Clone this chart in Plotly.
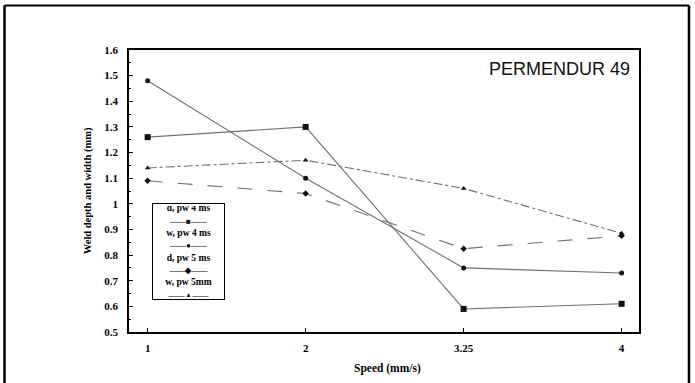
import plotly.graph_objects as go

# ---- data ----
speeds = ["1", "2", "3.25", "4"]
d_pw4 = [1.26, 1.30, 0.59, 0.61]
w_pw4 = [1.48, 1.10, 0.75, 0.73]
d_pw5 = [1.09, 1.04, 0.825, 0.875]
w_pw5 = [1.14, 1.17, 1.06, 0.885]
series_names = ["d, pw 4 ms", "w, pw 4 ms", "d, pw 5 ms", "w, pw 5mm"]
y_ticks = [0.5, 0.6, 0.7, 0.8, 0.9, 1.0, 1.1, 1.2, 1.3, 1.4, 1.5, 1.6]
y_ticktext = ["0.5", "0.6", "0.7", "0.8", "0.9", "1", "1.1", "1.2", "1.3", "1.4", "1.5", "1.6"]

# ---- styles ----
symbols = ["square", "circle", "diamond", "triangle-up"]
msizes = [6, 5, 5, 5]
dashes = ["solid", "solid", "longdash", "dashdot"]
serif = "Liberation Serif"

fig = go.Figure()
for name, vals, sym, ms, dsh in zip(series_names, [d_pw4, w_pw4, d_pw5, w_pw5], symbols, msizes, dashes):
    fig.add_trace(go.Scatter(
        x=speeds, y=vals, name=name, mode="lines+markers",
        line=dict(color="#707070", width=1.1, dash=dsh),
        marker=dict(symbol=sym, size=ms, color="#111111"),
        showlegend=False,
    ))

legend_text = "<br>".join(
    f"{n}<br><span style='font-size:8px'>——{g}——</span>"
    for n, g in zip(series_names, ["■", "●", "◆", "▲"])
)

fig.update_layout(
    width=695, height=383,
    margin=dict(l=129, r=56, t=50, b=51),
    paper_bgcolor="white", plot_bgcolor="white",
    xaxis=dict(
        type="category", range=[-0.118, 3.11],
        showgrid=False, zeroline=False,
        showline=True, linecolor="black", linewidth=1.5, mirror=True,
        ticks="inside", ticklen=4, tickcolor="black", tickwidth=1,
        tickfont=dict(family=serif, size=11, color="black", weight="bold"),
        ticklabelstandoff=5,
    ),
    yaxis=dict(
        range=[0.5, 1.6], tickvals=y_ticks, ticktext=y_ticktext,
        showgrid=False, zeroline=False,
        showline=True, linecolor="black", linewidth=1.5, mirror=True,
        ticks="inside", ticklen=4, tickcolor="black", tickwidth=1,
        minor=dict(dtick=0.05, ticks="inside", ticklen=2, tickcolor="black"),
        tickfont=dict(family=serif, size=11, color="black", weight="bold"),
        ticklabelstandoff=7,
    ),
    annotations=[
        dict(text="PERMENDUR 49", xref="paper", yref="paper", x=0.986, y=0.933,
             xanchor="right", yanchor="middle", showarrow=False,
             font=dict(family="Liberation Sans", size=18, color="#111111")),
        dict(text="Speed (mm/s)", xref="paper", yref="paper", x=0.506, y=-0.128,
             xanchor="center", yanchor="middle", showarrow=False,
             font=dict(family=serif, size=11.5, color="black", weight="bold")),
        dict(text="Weld depth and width (mm)", xref="paper", yref="paper", x=-0.080, y=0.5,
             xanchor="center", yanchor="middle", showarrow=False, textangle=-90,
             font=dict(family=serif, size=10.5, color="black", weight="bold")),
        dict(text=legend_text,
             xref="paper", yref="paper", x=0.0457, y=0.456,
             xanchor="left", yanchor="top", showarrow=False, align="center",
             width=67, height=91, valign="middle",
             bordercolor="black", borderwidth=1, borderpad=2, bgcolor="white",
             font=dict(family=serif, size=9.5, color="black", weight="bold")),
    ],
    shapes=[
        dict(type="line", xref="paper", yref="paper", x0=-0.2441, x1=-0.2441, y0=1.158, y1=-0.185,
             line=dict(color="black", width=2.5)),
        dict(type="line", xref="paper", yref="paper", x0=1.098, x1=1.098, y0=1.158, y1=-0.185,
             line=dict(color="black", width=2.5)),
        dict(type="line", xref="paper", yref="paper", x0=-0.2441, x1=1.098, y0=1.158, y1=1.158,
             line=dict(color="black", width=2)),
    ],
)

fig.write_html("out.html")
